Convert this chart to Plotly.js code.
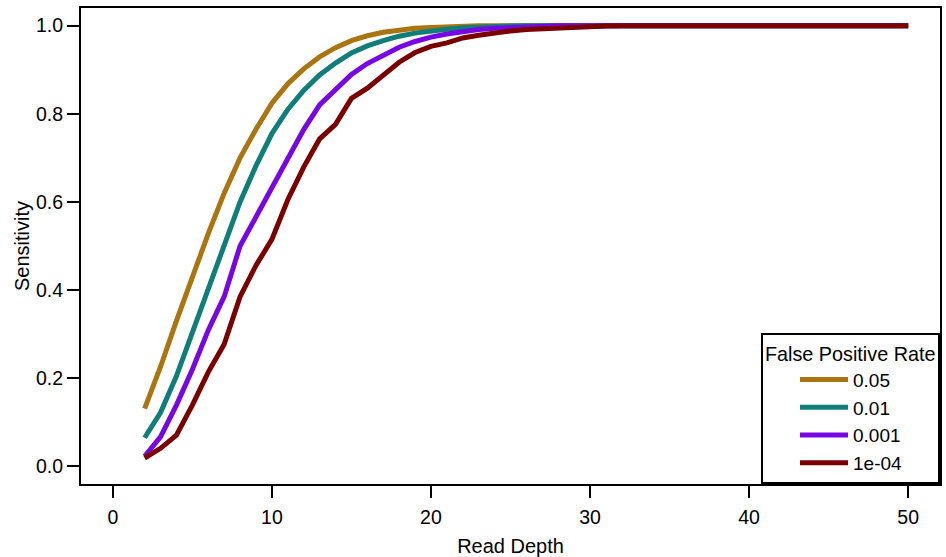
<!DOCTYPE html>
<html>
<head>
<meta charset="utf-8">
<script src="https://cdn.plot.ly/plotly-3.0.1.min.js"></script>
<style>html,body{margin:0;padding:0;background:#fff;}#chart{width:946px;height:557px;}</style>
</head>
<body>
<div id="chart"></div>
<script>
var depth = [2,3,4,5,6,7,8,9,10,11,12,13,14,15,16,17,18,19,20,21,22,23,24,25,26,27,28,29,30,31,32,33,34,35,36,37,38,39,40,41,42,43,44,45,46,47,48,49,50];

var fpr005 = [0.131,0.226,0.330,0.430,0.528,0.620,0.700,0.765,0.824,0.868,0.902,0.929,0.950,0.966,0.977,0.985,0.990,0.994,0.996,0.998,0.999,
  1,1,1,1,1,1,1,1,1,1,1,1,1,1,1,1,1,1,1,1,1,1,1,1,1,1,1,1];

var fpr001 = [0.065,0.122,0.205,0.303,0.400,0.500,0.600,0.682,0.755,0.810,0.853,0.888,0.915,0.938,0.954,0.966,0.976,0.983,0.988,0.992,0.995,0.997,0.998,0.999,
  1,1,1,1,1,1,1,1,1,1,1,1,1,1,1,1,1,1,1,1,1,1,1,1,1];

var fpr0001 = [0.023,0.067,0.139,0.220,0.309,0.385,0.500,0.566,0.635,0.703,0.764,0.820,0.855,0.889,0.914,0.934,0.951,0.964,0.974,0.981,0.987,0.991,0.994,0.996,0.998,0.999,
  1,1,1,1,1,1,1,1,1,1,1,1,1,1,1,1,1,1,1,1,1,1,1];

var fpr1e4 = [0.019,0.041,0.071,0.139,0.214,0.277,0.385,0.456,0.515,0.605,0.679,0.743,0.776,0.835,0.858,0.886,0.917,0.939,0.953,0.961,0.972,0.978,0.984,0.988,0.991,0.993,0.995,0.997,0.998,0.999,
  1,1,1,1,1,1,1,1,1,1,1,1,1,1,1,1,1,1,1];

var seriesNames = ['0.05','0.01','0.001','1e-04'];
var seriesColors = ['#AA7510','#0F7D78','#7806E4','#7A0000'];
var seriesValues = [fpr005, fpr001, fpr0001, fpr1e4];

var xTicks = [0,10,20,30,40,50];
var yTicks = [0,0.2,0.4,0.6,0.8,1.0];
var yTickText = ['0.0','0.2','0.4','0.6','0.8','1.0'];

var FONT = 'Liberation Sans, Arial, sans-serif';

var traces = seriesValues.map(function(v,i){
  return {
    x: depth, y: v, type: 'scatter', mode: 'lines', name: seriesNames[i],
    line: {color: seriesColors[i], width: 5}
  };
});

var layout = {
  width: 946, height: 557,
  margin: {l: 81, r: 6, t: 8, b: 73, pad: 0},
  paper_bgcolor: '#fff', plot_bgcolor: '#fff',
  font: {family: FONT, size: 19, color: '#000'},
  showlegend: true,
  xaxis: {
    range: [-2, 52], tickvals: xTicks, ticks: 'outside', ticklen: 12, tickwidth: 2, tickcolor: '#000',
    showline: true, linewidth: 2, linecolor: '#000', mirror: true,
    showgrid: false, zeroline: false, ticklabelstandoff: 3,
    tickfont: {family: FONT, size: 19.5, color: '#000'},
    title: {text: 'Read Depth', font: {family: FONT, size: 20, color: '#000'}, standoff: 12}
  },
  yaxis: {
    range: [-0.04, 1.04], tickvals: yTicks, ticktext: yTickText, ticks: 'outside', ticklen: 12, tickwidth: 2, tickcolor: '#000',
    showline: true, linewidth: 2, linecolor: '#000', mirror: true,
    showgrid: false, zeroline: false,
    tickfont: {family: FONT, size: 19.5, color: '#000'},
    title: {text: 'Sensitivity', font: {family: FONT, size: 20, color: '#000'}, standoff: 1}
  },
  legend: {
    x: 1, xanchor: 'right', y: 0, yanchor: 'bottom',
    bgcolor: '#fff', bordercolor: '#000', borderwidth: 2,
    font: {family: FONT, size: 19, color: '#000'},
    title: {text: 'False Positive Rate', font: {family: FONT, size: 19.8, color: '#000'}},
    itemwidth: 48, indentation: 32, tracegroupgap: 0
  }
};

Plotly.newPlot('chart', traces, layout, {displayModeBar: false, staticPlot: true});
</script>
</body>
</html>
